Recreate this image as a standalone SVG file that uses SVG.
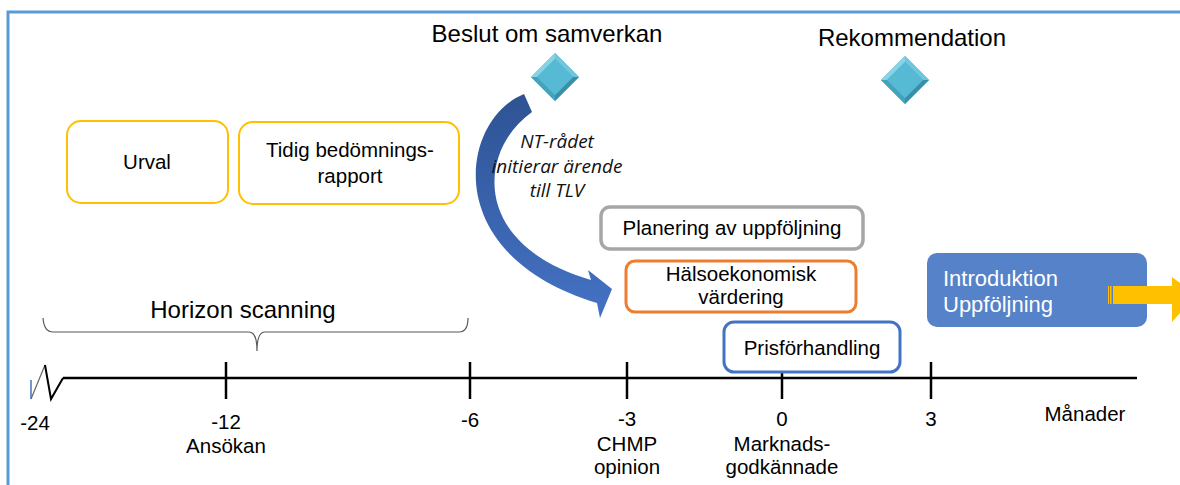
<svg xmlns="http://www.w3.org/2000/svg" width="1180" height="485" viewBox="0 0 1180 485">
<style>
.t{font-family:"Liberation Sans",Arial,sans-serif;fill:#000}
.big{font-size:24px}
.box{font-size:20.5px}
.ax{font-size:20.5px}
.it{font-family:"Open Sans","Liberation Sans",sans-serif;font-style:italic;font-size:19px;fill:#111}
.ybox{fill:#fff;stroke:#ffc000;stroke-width:2}
.tick{stroke:#000;stroke-width:2.5}
</style>
<defs>
<linearGradient id="arrowGrad" x1="0" y1="0" x2="0" y2="1">
<stop offset="0" stop-color="#2e5394"/>
<stop offset="1" stop-color="#4472c4"/>
</linearGradient>
<g id="gem">
<polygon points="0,-24 24,0 0,24 -24,0" fill="#4bacc6"/>
<polygon points="-24,0 0,-24 0,-18 -18,0" fill="#86d3e6"/>
<polygon points="0,-24 24,0 18,0 0,-18" fill="#6fc6dd"/>
<polygon points="24,0 0,24 0,18 18,0" fill="#3a8fa8"/>
<polygon points="0,24 -24,0 -18,0 0,18" fill="#45a2bb"/>
<polygon points="0,-18 18,0 0,18 -18,0" fill="#56bad4"/>
</g>
</defs>
<rect width="1180" height="485" fill="#fff"/>
<g id="frame" fill="none" stroke="#5b9bd5" stroke-width="3">
<polyline points="8,485 8,12 1180,12"/>
</g>

<g id="timeline">
<line x1="63" y1="378" x2="1137" y2="378" stroke="#000" stroke-width="2.5"/>
<line x1="31" y1="380" x2="31" y2="399" stroke="#4472c4" stroke-width="1.5"/>
<line x1="31" y1="399" x2="45" y2="365" stroke="#666" stroke-width="1.2"/>
<polyline points="45,365 51,399 63,378" fill="none" stroke="#000" stroke-width="2"/>
<line class="tick" x1="226" y1="362" x2="226" y2="399"/>
<line class="tick" x1="470" y1="362" x2="470" y2="399"/>
<line class="tick" x1="627" y1="362" x2="627" y2="399"/>
<line class="tick" x1="782" y1="372" x2="782" y2="399"/>
<line class="tick" x1="931" y1="362" x2="931" y2="399"/>
<g class="t ax" text-anchor="middle">
<text x="35" y="430">-24</text>
<text x="226" y="429">-12</text>
<text x="226" y="453">Ansökan</text>
<text x="470" y="427">-6</text>
<text x="627" y="426">-3</text>
<text x="627" y="451">CHMP</text>
<text x="627" y="474">opinion</text>
<text x="782" y="426">0</text>
<text x="782" y="451">Marknads-</text>
<text x="782" y="474">godkännade</text>
<text x="931" y="426">3</text>
<text x="1085" y="421">Månader</text>
</g>
</g>

<g id="horizon">
<path d="M43,318 Q44,332 53,332 L249,332 Q257,332 257,351 Q257,332 265,332 L459,332 Q468,332 468,318" fill="none" stroke="#595959" stroke-width="1.2"/>
<text class="t big" x="243" y="318" text-anchor="middle">Horizon scanning</text>
</g>

<g id="urval">
<rect class="ybox" x="67" y="121" width="161" height="82" rx="14"/>
<text class="t box" x="147" y="169" text-anchor="middle">Urval</text>
</g>
<g id="tidig">
<rect class="ybox" x="239" y="122" width="220" height="82" rx="14"/>
<text class="t box" x="350" y="157" text-anchor="middle">Tidig bedömnings-</text>
<text class="t box" x="350" y="183" text-anchor="middle">rapport</text>
</g>

<g id="beslut">
<text class="t big" x="547" y="42" text-anchor="middle">Beslut om samverkan</text>
<use href="#gem" x="555" y="77"/>
</g>
<g id="rekommendation">
<text class="t big" x="912" y="46" text-anchor="middle">Rekommendation</text>
<use href="#gem" x="905" y="80"/>
</g>

<g id="connectors">
<path d="M524,94 C460,120 438,255 597,303 L600,318 L612,289 L588,270 L591,280 C470,245 478,150 532,112 Z" fill="url(#arrowGrad)"/>
<g class="it" text-anchor="middle">
<text x="557" y="148">NT-rådet</text>
<text x="557" y="173">initierar ärende</text>
<text x="557" y="197">till TLV</text>
</g>
</g>

<g id="planering">
<rect x="601" y="207" width="262" height="42" rx="9" fill="#fff" stroke="#a6a6a6" stroke-width="3.5"/>
<text class="t box" x="732" y="235" text-anchor="middle">Planering av uppföljning</text>
</g>
<g id="halso">
<rect x="626" y="261" width="230" height="51" rx="9" fill="#fff" stroke="#ed7d31" stroke-width="3"/>
<text class="t box" x="741" y="281" text-anchor="middle">Hälsoekonomisk</text>
<text class="t box" x="741" y="304" text-anchor="middle">värdering</text>
</g>
<g id="pris">
<rect x="724" y="322" width="176" height="50" rx="10" fill="#fff" stroke="#4472c4" stroke-width="3"/>
<text class="t box" x="812" y="355" text-anchor="middle">Prisförhandling</text>
</g>

<g id="introduktion">
<rect x="927" y="253" width="220" height="74" rx="10" fill="#5682c9"/>
<text class="t" x="943" y="286" font-size="22" style="fill:#fff">Introduktion</text>
<text class="t" x="943" y="312" font-size="22" style="fill:#fff">Uppföljning</text>
<g fill="#ffc000">
<rect x="1108" y="286" width="1" height="18"/>
<rect x="1110" y="286" width="1.5" height="18"/>
<rect x="1113" y="286" width="62" height="18"/>
<polygon points="1172,277 1196,295 1172,322"/>
</g>
</g>
</svg>
